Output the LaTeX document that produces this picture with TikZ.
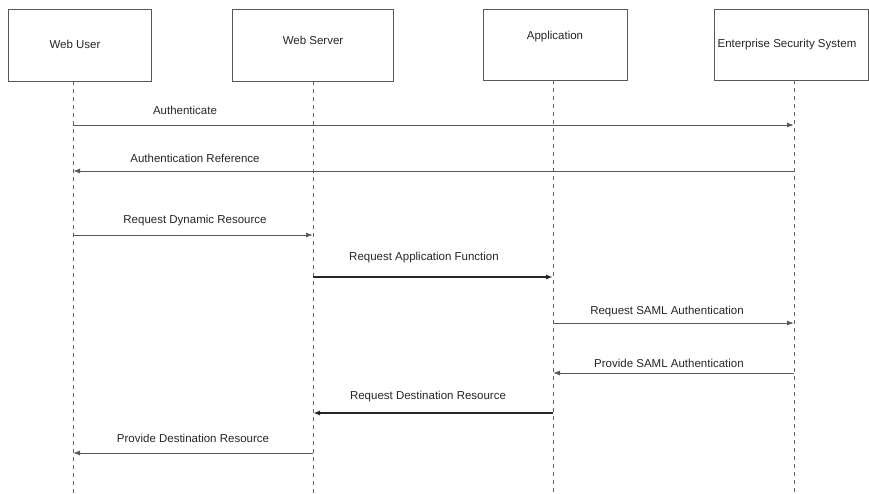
\documentclass[tikz,border=0pt]{standalone}
\usepackage{fontspec}
\setmainfont{Liberation Sans}
\usetikzlibrary{arrows.meta}
\begin{document}
\begin{tikzpicture}[x=1pt,y=-1pt,
  actor/.style={draw=black!65,line width=1pt,fill=white,inner sep=0pt},
  lifeline/.style={draw=black!60,dashed,dash pattern=on 4pt off 4pt,line width=0.8pt},
  msg/.style={draw=black!65,line width=1pt,-{Latex[length=7pt,width=5pt]}},
  msgthick/.style={draw=black!85,line width=1.7pt,-{Latex[length=7pt,width=5pt]}},
  lbl/.style={font=\fontsize{11.5}{13}\selectfont,text=black!85,inner sep=0pt}]
\useasboundingbox (0,0) rectangle (869,493);
% actor boxes
\node[actor,minimum width=143pt,minimum height=72pt] (wu) at (79.5,45) {};
\node[actor,minimum width=161pt,minimum height=72pt] (ws) at (312.5,45) {};
\node[actor,minimum width=144pt,minimum height=71pt] (ap) at (555,44.5) {};
\node[actor,minimum width=154pt,minimum height=71pt] (es) at (791,44.5) {};
\node[lbl] (wut) at (75,44) {Web User};
\node[lbl] (wst) at (313,40) {Web Server};
\node[lbl] (apt) at (555,37) {Application};
\node[lbl] (est) at (787,45) {Enterprise Security System};
% lifeline ends
\coordinate (wuT) at (73,81);  \coordinate (wuB) at (73,493);
\coordinate (wsT) at (313,81); \coordinate (wsB) at (313,493);
\coordinate (apT) at (553,80); \coordinate (apB) at (553,493);
\coordinate (esT) at (794,80); \coordinate (esB) at (794,493);
\draw[lifeline] (wuT) -- (wuB);
\draw[lifeline] (wsT) -- (wsB);
\draw[lifeline] (apT) -- (apB);
\draw[lifeline] (esT) -- (esB);
% message anchor points
\coordinate (m1a) at (73,125);  \coordinate (m1b) at (794,125);
\coordinate (m2a) at (794,171); \coordinate (m2b) at (73,171);
\coordinate (m3a) at (73,235);  \coordinate (m3b) at (313,235);
\coordinate (m4a) at (313,277); \coordinate (m4b) at (553,277);
\coordinate (m5a) at (553,323); \coordinate (m5b) at (794,323);
\coordinate (m6a) at (794,373); \coordinate (m6b) at (553,373);
\coordinate (m7a) at (553,413); \coordinate (m7b) at (313,413);
\coordinate (m8a) at (313,453); \coordinate (m8b) at (73,453);
\draw[msg] (m1a) -- (m1b);
\draw[msg] (m2a) -- (m2b);
\draw[msg] (m3a) -- (m3b);
\draw[msgthick] (m4a) -- (m4b);
\draw[msg] (m5a) -- (m5b);
\draw[msg] (m6a) -- (m6b);
\draw[msgthick] (m7a) -- (m7b);
\draw[msg] (m8a) -- (m8b);
% labels
\node[lbl] (l1) at (185,110) {Authenticate};
\node[lbl] (l2) at (195,158) {Authentication Reference};
\node[lbl] (l3) at (195,221) {Request Dynamic Resource};
\node[lbl] (l4) at (424,258) {Request Application Function};
\node[lbl] (l5) at (667,312) {Request SAML Authentication};
\node[lbl] (l6) at (669,363) {Provide SAML Authentication};
\node[lbl] (l7) at (428,397) {Request Destination Resource};
\node[lbl] (l8) at (193,438) {Provide Destination Resource};
\end{tikzpicture}
\end{document}
